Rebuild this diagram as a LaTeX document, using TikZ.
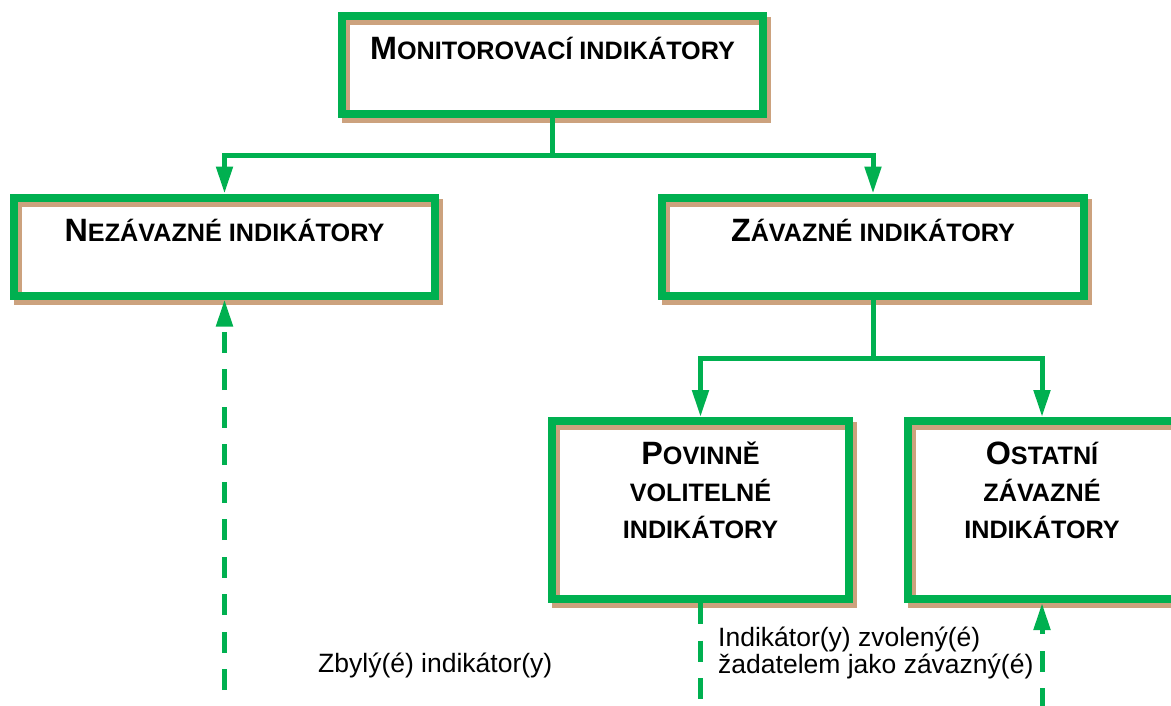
\documentclass[tikz,border=0pt]{standalone}
\usepackage{fontspec}
\setmainfont{Liberation Sans}
\usetikzlibrary{arrows.meta}
\definecolor{boxgreen}{RGB}{0,176,80}
\definecolor{shadowtan}{RGB}{204,162,126}
\newcommand\BigLetter[1]{{\fontsize{32.3pt}{37pt}\selectfont #1}}
\tikzset{
  chartbox/.style={draw=boxgreen, line width=8pt, rectangle, inner sep=0pt,
    preaction={draw=shadowtan, line width=8pt, transform canvas={shift={(4pt,-5pt)}}}},
  boxtext/.style={font=\fontsize{25.2pt}{37pt}\selectfont\bfseries, inner sep=0pt, text=black},
  plaintext/.style={font=\fontsize{26.5pt}{26.5pt}\selectfont, inner sep=0pt, text=black},
  conn/.style={draw=boxgreen, line width=5pt},
  arrowconn/.style={conn, -{Triangle[width=16pt,length=27pt]}},
  dashconn/.style={conn, dash pattern=on 21pt off 16.5pt},
}
\begin{document}
\begin{tikzpicture}[x=1pt,y=-1pt]
\useasboundingbox (0,0) rectangle (1171,705);
% boxes
\node[chartbox, minimum width=421pt, minimum height=98pt] (b1) at (552.5,64.5) {};
\node[chartbox, minimum width=421pt, minimum height=98pt] (b2) at (224.5,246.5) {};
\node[chartbox, minimum width=422pt, minimum height=98pt] (b3) at (873,246.5) {};
\node[chartbox, minimum width=297pt, minimum height=178pt] (b4) at (700.5,510) {};
\node[chartbox, minimum width=268pt, minimum height=178pt] (b5) at (1042,510) {};
% box texts
\node[boxtext, anchor=base] (t1) at (552.5,59) {\BigLetter{M}ONITOROVACÍ INDIKÁTORY};
\node[boxtext, anchor=base] (t2) at (224.5,241) {\BigLetter{N}EZÁVAZNÉ INDIKÁTORY};
\node[boxtext, anchor=base] (t3) at (873,241) {\BigLetter{Z}ÁVAZNÉ INDIKÁTORY};
\node[boxtext, anchor=base, align=center] (t4) at (700.5,538) {\BigLetter{P}OVINNĚ\\VOLITELNÉ\\INDIKÁTORY};
\node[boxtext, anchor=base, align=center] (t5) at (1042,538) {\BigLetter{O}STATNÍ\\ZÁVAZNÉ\\INDIKÁTORY};
% junctions
\coordinate (j1) at (552.5,155);
\coordinate (j2) at (873,358);
\draw[conn] (b1.south) -- (j1);
\draw[arrowconn] (j1) -| (b2.north);
\draw[arrowconn] (j1) -| (b3.north);
\draw[conn] (b3.south) -- (j2);
\draw[arrowconn] (j2) -| (b4.north);
\draw[arrowconn] (j2) -| (b5.north);
% dashed connectors
\coordinate (d1) at (224.5,690);
\coordinate (d2) at (700.5,716);
\coordinate (d3) at (1042,709);
\draw[dashconn, -{Triangle[width=16pt,length=27pt]}] (d1) -- (b2.south);
\draw[dashconn] (b4.south) -- (d2);
\draw[dashconn, -{Triangle[width=16pt,length=27pt]}] (d3) -- (b5.south);
% labels
\node[plaintext, anchor=base west] (l1) at (318,672) {Zbylý(é) indikátor(y)};
\node[plaintext, anchor=base west, align=left] (l2) at (718,673) {Indikátor(y) zvolený(é)\\žadatelem jako závazný(é)};
\end{tikzpicture}
\end{document}
